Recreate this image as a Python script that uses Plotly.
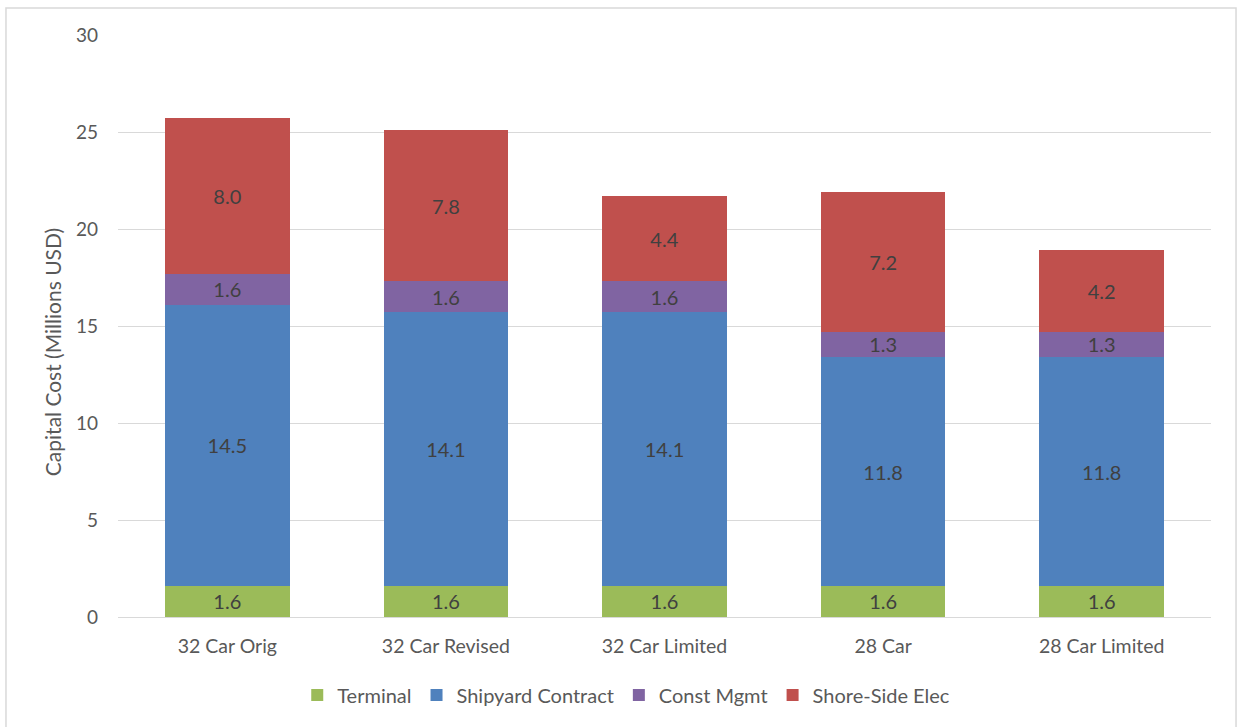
import plotly.graph_objects as go

categories = ["32 Car Orig", "32 Car Revised", "32 Car Limited", "28 Car", "28 Car Limited"]
terminal = [1.6, 1.6, 1.6, 1.6, 1.6]
shipyard = [14.5, 14.1, 14.1, 11.8, 11.8]
const_mgmt = [1.6, 1.6, 1.6, 1.3, 1.3]
shore_side = [8.0, 7.8, 4.4, 7.2, 4.2]

series = [
    ("Terminal", terminal, "#9BBB59"),
    ("Shipyard Contract", shipyard, "#4F81BD"),
    ("Const Mgmt", const_mgmt, "#8064A2"),
    ("Shore-Side Elec", shore_side, "#C0504D"),
]

FONT = "Lato, Open Sans, sans-serif"

fig = go.Figure()
for name, vals, color in series:
    fig.add_trace(go.Bar(
        x=categories, y=vals, name=name,
        marker=dict(color=color, line=dict(width=0)),
        text=[f"{v:.1f}" for v in vals],
        textposition="inside", insidetextanchor="middle",
        textfont=dict(family=FONT, size=20, color="#404040"),
        constraintext="none",
    ))

fig.update_layout(
    barmode="stack",
    bargap=0.43,
    width=1237, height=727,
    margin=dict(l=118, r=26, t=35, b=108),
    paper_bgcolor="white", plot_bgcolor="white",
    font=dict(family=FONT, size=19, color="#595959"),
    uniformtext=dict(mode=False),
    legend=dict(orientation="h", x=0.465, xanchor="center", y=-0.134, yanchor="middle",
                font=dict(family=FONT, size=20, color="#595959"), itemwidth=30,
                traceorder="normal"),
    xaxis=dict(showline=True, linecolor="#d9d9d9", linewidth=1, ticks="",
               ticklabelstandoff=12,
               tickfont=dict(family=FONT, size=19.5, color="#595959")),
    yaxis=dict(range=[0, 30], dtick=5, showgrid=True, gridcolor="#d9d9d9", gridwidth=1,
               zeroline=False, ticks="", ticklabelstandoff=19,
               tickfont=dict(family=FONT, size=19, color="#595959")),
)

fig.add_annotation(text="Capital Cost (Millions USD)", xref="paper", yref="paper",
                   x=-0.0604, y=0.455, textangle=-90, showarrow=False,
                   xanchor="center", yanchor="middle",
                   font=dict(family=FONT, size=21, color="#595959"))

fig.add_shape(type="rect", xref="paper", yref="paper",
              x0=-0.1025, x1=1.0229, y0=-0.3, y1=1.0463,
              line=dict(color="#d9d9d9", width=1.5), layer="below")

fig.write_html("out.html")
